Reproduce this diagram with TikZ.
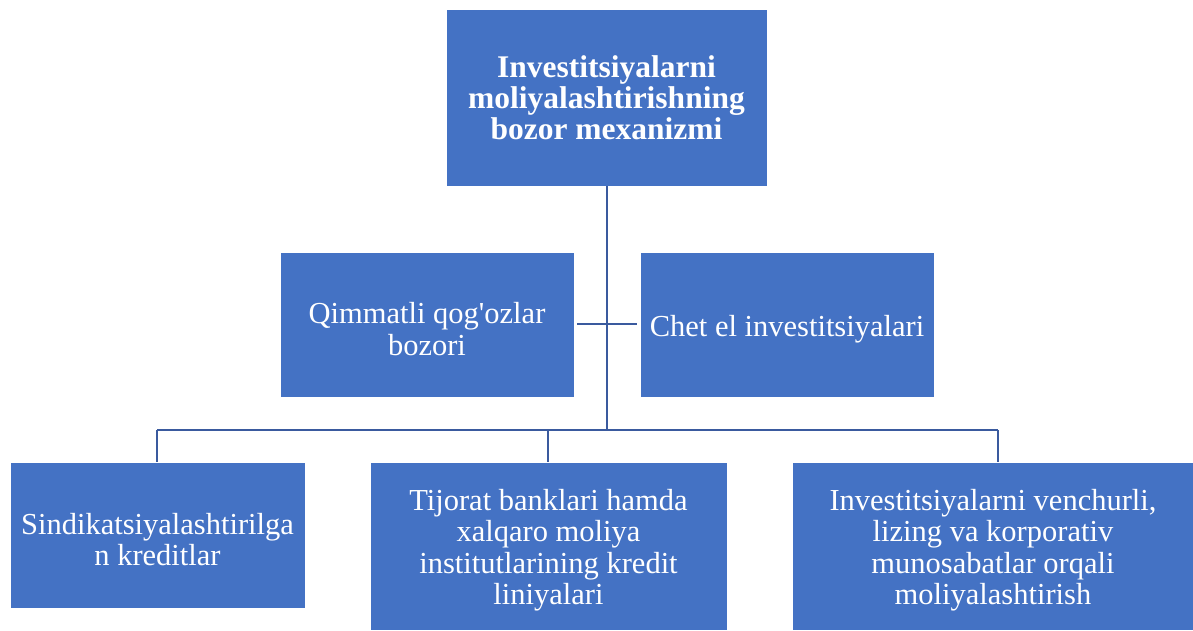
\documentclass[tikz,border=0pt]{standalone}
\usepackage{fontspec}
\setmainfont{Liberation Serif}[Ligatures=TeXOff]
\definecolor{boxblue}{HTML}{4472C4}
\definecolor{linkblue}{RGB}{58,90,158}
\newcommand\liftline{\rule{0pt}{30pt}}
\begin{document}
\begin{tikzpicture}[x=1pt,y=-1pt,
  box/.style={fill=boxblue,draw=white,line width=0.8pt,inner sep=0pt,text=white,align=center,
    font=\fontsize{30.5}{31.5}\selectfont},
  link/.style={draw=linkblue,line width=2.6pt}]
\useasboundingbox (0,0) rectangle (1193,630);
\node[box,minimum width=321pt,minimum height=177pt,font=\fontsize{31.5}{31}\selectfont\bfseries] (top) at (606.5,97.5)
  {Investitsiyalarni\\moliyalashtirishning\\bozor mexanizmi};
\node[box,minimum width=294pt,minimum height=145pt] (ql) at (427,324.5) {\liftline Qimmatli qog'ozlar\\bozori};
\node[box,minimum width=294pt,minimum height=145pt] (qr) at (787,324.5) {\liftline Chet el investitsiyalari};
\node[box,minimum width=295pt,minimum height=146pt] (b1) at (157.5,535) {\liftline Sindikatsiyalashtirilga\\n kreditlar};
\node[box,minimum width=357pt,minimum height=168pt] (b2) at (548.5,546) {\liftline Tijorat banklari hamda\\xalqaro moliya\\institutlarining kredit\\liniyalari};
\node[box,minimum width=402pt,minimum height=168pt] (b3) at (993,546) {\liftline Investitsiyalarni venchurli,\\lizing va korporativ\\munosabatlar orqali\\moliyalashtirish};
\coordinate (hub) at (607,430);
\coordinate (cl) at (577,324);
\coordinate (cr) at (637,324);
\coordinate (jl) at (157,430);
\coordinate (jm) at (548,430);
\coordinate (jr) at (998,430);
\draw[link] (top.south -| hub) -- (hub);
\draw[link] (cl) -- (cr);
\draw[link] (jl) -- (jr);
\draw[link] (jl) -- (jl |- b1.north);
\draw[link] (jm) -- (jm |- b2.north);
\draw[link] (jr) -- (jr |- b3.north);
\end{tikzpicture}
\end{document}
